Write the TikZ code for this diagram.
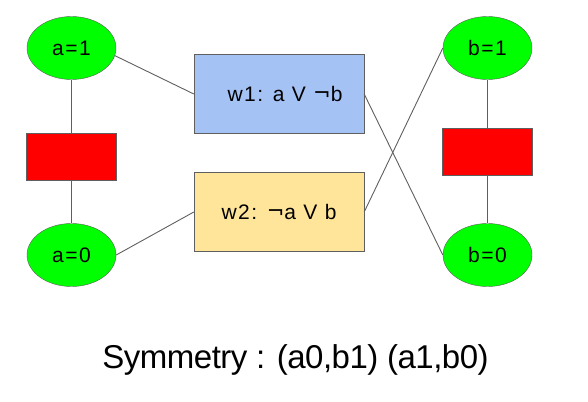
\documentclass[tikz,border=0pt]{standalone}
\usepackage{fontspec}
\setmainfont{Liberation Sans}
\newfontfamily\labelfont[LetterSpace=7]{Liberation Sans}
\newfontfamily\titlefont[LetterSpace=-1.5]{Liberation Sans}
\newfontfamily\negfont{DejaVu Sans}
\newcommand{\negsign}{\raisebox{1.5pt}{\negfont ¬}}
\usetikzlibrary{shapes.geometric}
\definecolor{litgreen}{HTML}{00FF00}
\definecolor{clauseblue}{HTML}{A4C2F4}
\definecolor{clauseyellow}{HTML}{FFE599}
\definecolor{edgegray}{HTML}{5F5F5F}

\begin{document}
\begin{tikzpicture}[x=1pt,y=-1pt,
    lit/.style={ellipse,draw=edgegray,fill=litgreen,minimum width=89pt,minimum height=63pt,inner sep=0pt,font=\labelfont\fontsize{21}{25}\selectfont},
    conflict/.style={draw=edgegray,fill=red,minimum width=90pt,minimum height=47pt,inner sep=0pt},
    clause/.style={draw=edgegray,minimum width=170pt,minimum height=79pt,inner sep=0pt,font=\labelfont\fontsize{21}{25}\selectfont},
    wire/.style={edgegray,line width=0.9pt}]
  \useasboundingbox (0,0) rectangle (588,401);
  \foreach \v/\x in {a/71.5,b/487.5} {
    \node[lit] (\v1) at (\x,48) {\v=1};
    \node[lit] (\v0) at (\x,255) {\v=0};
  }
  \node[conflict] (ra) at (71.5,157) {};
  \node[conflict] (rb) at (487.5,152) {};
  \node[clause,fill=clauseblue] (w1) at (279,94) {\hspace*{12pt}w1: a V \negsign b};
  \node[clause,fill=clauseyellow] (w2) at (279,212) {w2: \negsign a V b};
  \foreach \v in {a,b} {
    \draw[wire] (\v1) -- (r\v);
    \draw[wire] (r\v) -- (\v0);
  }
  \draw[wire] (a1.-10) -- (w1.west);
  \draw[wire] (a0.east) -- (w2.west);
  \draw[wire] (w1.east) -- (b0.west);
  \draw[wire] (w2.east) -- (b1.west);
  \node[font=\titlefont\fontsize{33}{40}\selectfont,anchor=base] (title) at (295.5,368) {Symmetry : (a0,b1) (a1,b0)};
\end{tikzpicture}
\end{document}
